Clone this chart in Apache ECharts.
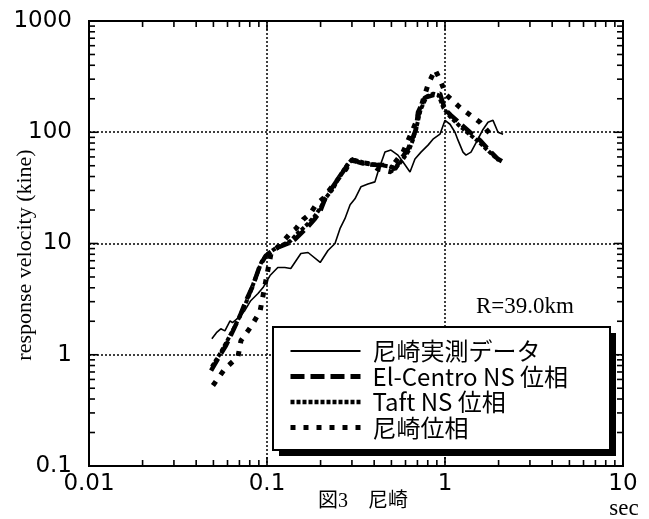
<!DOCTYPE html>
<html>
<head>
<meta charset="utf-8">
<script src="https://cdn.jsdelivr.net/npm/echarts/dist/echarts.min.js"></script>
<style>
html,body{margin:0;padding:0;background:#fff;}
#chart{width:649px;height:519px;}
</style>
</head>
<body>
<div id="chart"></div>
<script>
// ---- data (period in sec, response velocity in kine) ----
const seriesNames = ['尼崎実測データ', 'El-Centro NS 位相', 'Taft NS 位相', '尼崎位相'];

const measT = [0.049,0.052,0.055,0.058,0.062,0.064,0.069,0.075,0.081,0.089,0.095,0.104,0.115,0.126,0.136,0.155,0.170,0.199,0.220,0.241,0.257,0.274,0.293,0.312,0.337,0.369,0.404,0.420,0.460,0.497,0.544,0.581,0.636,0.678,0.733,0.803,0.856,0.937,1.0,1.067,1.138,1.183,1.262,1.312,1.400,1.532,1.635,1.744,1.861,1.985,2.12];
const measV = [1.39,1.58,1.71,1.64,2.02,1.94,2.15,2.49,3.06,3.55,4.02,5.15,6.08,6.08,5.96,8.13,8.30,6.75,8.65,10.0,13.6,16.7,22.3,25.2,32.3,34.3,35.8,44.0,66.3,69.1,62.3,54.0,44.0,57.4,66.3,76.6,86.6,96.0,128,118,100,84.9,66.3,62.3,66.3,86.6,106,123,128,100,96];

const elcT = [0.0485,0.053,0.0588,0.0644,0.0705,0.0762,0.0834,0.0913,0.0987,0.108,0.1153,0.1312,0.1436,0.170,0.186,0.1986,0.2118,0.220,0.2506,0.274,0.2964,0.3245,0.355,0.420,0.478,0.524,0.566,0.620,0.644,0.687,0.705,0.772,0.879,0.937,1.0,1.081,1.230,1.382,1.573,1.744,1.985,2.12];
const elcV = [0.72,0.92,1.21,1.64,2.24,3.06,4.19,6.34,7.80,8.65,9.2,10.0,10.9,14.2,16.7,19.3,25.2,27.9,38.0,46.7,57.4,54.0,51.8,50.7,50.7,46.7,57.4,70.5,81.5,106,151,205,218,223,160,142,118,100,84.9,70.5,57.4,54.0];

const taftT = [0.049,0.054,0.060,0.066,0.072,0.078,0.085,0.093,0.100,0.110,0.120,0.135,0.150,0.168,0.185,0.200,0.215,0.235,0.255,0.280,0.300,0.330,0.370,0.430,0.490,0.530,0.575,0.625,0.660,0.695,0.730,0.790,0.860,0.920,0.980,1.060,1.200,1.350,1.550,1.750,2.000];
const taftV = [0.78,1.0,1.35,1.8,2.4,3.2,4.6,6.8,8.0,8.9,9.6,10.5,12.5,14.8,17.5,21.0,26.0,31.0,40.0,50.0,57.0,55.0,52.0,51.0,49.0,48.0,56.0,68.0,85.0,115,160,210,222,215,165,140,115,98,82,68,56];

const amaT = [0.0497,0.0581,0.0687,0.0714,0.0813,0.0913,0.095,0.1053,0.123,0.1347,0.1455,0.1593,0.1744,0.1885,0.2118,0.220,0.244,0.2604,0.278,0.2964,0.33,0.384,0.420,0.497,0.510,0.581,0.687,0.803,0.879,0.937,1.013,1.214,1.573,1.861];
const amaV = [0.53,0.75,0.96,1.34,1.79,2.44,3.40,8.13,10.4,12.3,13.6,16.4,18.5,22.3,26.3,29.1,35.8,41.3,46.7,56.2,54.0,51.8,46.7,44.0,50.7,66.3,123,268,365,297,218,167,123,90];

const xRange = [0.01, 10];
const yRange = [0.1, 1000];

const texts = {
  yName: 'response velocity (kine)',
  xName: '図3　尼崎',
  unit: 'sec',
  note: 'R=39.0km'
};

function pairs(xs, ys) { return xs.map((x, i) => [x, ys[i]]); }
function plainLabel(v) { return String(+v.toPrecision(6)); }

const chart = echarts.init(document.getElementById('chart'), null, {renderer: 'canvas'});

const tickSeries = {
  type: 'custom',
  silent: true,
  clip: false,
  z: 6,
  data: [[xRange[0], yRange[0]]],
  renderItem: function (params, api) {
    const children = [];
    const x0 = api.coord([xRange[0], yRange[0]]);
    const x1 = api.coord([xRange[1], yRange[1]]);
    const L = x0[0], R = x1[0], B = x0[1], T = x1[1];
    const st = {stroke: '#000', lineWidth: 1.6};
    for (let d = -2; d < 1; d++) {
      for (let m = 1; m <= 9; m++) {
        const v = m * Math.pow(10, d);
        const px = api.coord([v, yRange[0]])[0];
        const len = m === 1 ? 9 : 6;
        children.push({type: 'line', shape: {x1: px, y1: B, x2: px, y2: B - len}, style: st});
        children.push({type: 'line', shape: {x1: px, y1: T, x2: px, y2: T + len}, style: st});
      }
    }
    for (let d = -1; d < 3; d++) {
      for (let m = 1; m <= 9; m++) {
        const v = m * Math.pow(10, d);
        const py = api.coord([xRange[0], v])[1];
        const len = m === 1 ? 9 : 6;
        children.push({type: 'line', shape: {x1: L, y1: py, x2: L + len, y2: py}, style: st});
        children.push({type: 'line', shape: {x1: R, y1: py, x2: R - len, y2: py}, style: st});
      }
    }
    return {type: 'group', children: children};
  }
};

const serif = '"Liberation Serif", "Noto Sans CJK JP", serif';

// legend frame box (left, top, width, height) and shadow offset
const legendBox = {x: 273, y: 327, w: 337, h: 123, sh: 6};

const option = {
  animation: false,
  backgroundColor: '#fff',
  grid: {
    left: 89, right: 26, top: 21, bottom: 53,
    show: true, borderColor: '#000', borderWidth: 2, backgroundColor: 'transparent'
  },
  xAxis: {
    type: 'log', logBase: 10, min: xRange[0], max: xRange[1],
    axisLine: {show: false},
    axisTick: {show: false},
    minorTick: {show: false},
    axisLabel: {color: '#000', fontSize: 23, fontFamily: 'DejaVu Sans', margin: 7, formatter: plainLabel},
    splitLine: {show: true, lineStyle: {color: '#000', type: [2, 2], width: 1.5}}
  },
  yAxis: {
    type: 'log', logBase: 10, min: yRange[0], max: yRange[1],
    axisLine: {show: false},
    axisTick: {show: false},
    minorTick: {show: false},
    axisLabel: {color: '#000', fontSize: 23, fontFamily: 'DejaVu Sans', margin: 17, formatter: plainLabel},
    splitLine: {show: true, lineStyle: {color: '#000', type: [2, 2], width: 1.5}}
  },
  legend: {
    orient: 'vertical',
    left: 273, top: 327,
    itemWidth: 70, itemHeight: 20, itemGap: 1.5,
    padding: [12, 26, 12, 15],
    selectedMode: false,
    backgroundColor: 'transparent',
    borderWidth: 0,
    itemStyle: {opacity: 0},
    textStyle: {color: '#000', fontSize: 24, fontFamily: '"Noto Sans CJK JP", sans-serif', padding: [0, 0, 0, 7]},
    data: [
      {name: seriesNames[0], lineStyle: {width: 1.8}},
      {name: seriesNames[1], lineStyle: {width: 5}},
      {name: seriesNames[2], lineStyle: {width: 4.5}},
      {name: seriesNames[3], lineStyle: {width: 5}}
    ]
  },
  graphic: [
    {type: 'rect', z: 3, silent: true,
     shape: {x: legendBox.x + legendBox.sh, y: legendBox.y + legendBox.sh, width: legendBox.w, height: legendBox.h},
     style: {fill: '#000'}},
    {type: 'rect', z: 3, silent: true,
     shape: {x: legendBox.x, y: legendBox.y, width: legendBox.w, height: legendBox.h},
     style: {fill: '#fff', stroke: '#000', lineWidth: 2}},
    {type: 'text', x: 25, y: 255, rotation: Math.PI / 2,
     style: {text: texts.yName, font: '22px ' + serif, fill: '#000', align: 'center', verticalAlign: 'middle'}},
    {type: 'text', x: 318, y: 502,
     style: {text: texts.xName, font: '20px ' + serif, fill: '#000', align: 'left', verticalAlign: 'middle'}},
    {type: 'text', x: 624, y: 509,
     style: {text: texts.unit, font: '23px ' + serif, fill: '#000', align: 'center', verticalAlign: 'middle'}},
    {type: 'text', x: 525, y: 307,
     style: {text: texts.note, font: '23px ' + serif, fill: '#000', align: 'center', verticalAlign: 'middle'}}
  ],
  series: [
    {name: seriesNames[0], type: 'line', data: pairs(measT, measV), symbol: 'none', showSymbol: false, z: 2,
     lineStyle: {color: '#000', width: 1.6, type: 'solid'}},
    {name: seriesNames[1], type: 'line', data: pairs(elcT, elcV), symbol: 'none', showSymbol: false, z: 2,
     lineStyle: {color: '#000', width: 4.5, type: [14, 6], cap: 'butt'}},
    {name: seriesNames[2], type: 'line', data: pairs(taftT, taftV), symbol: 'none', showSymbol: false, z: 2,
     lineStyle: {color: '#000', width: 4, type: [4, 2], cap: 'butt'}},
    {name: seriesNames[3], type: 'line', data: pairs(amaT, amaV), symbol: 'none', showSymbol: false, z: 2,
     lineStyle: {color: '#000', width: 5, type: [5, 8], cap: 'butt'}},
    tickSeries
  ]
};

chart.setOption(option);
</script>
</body>
</html>
